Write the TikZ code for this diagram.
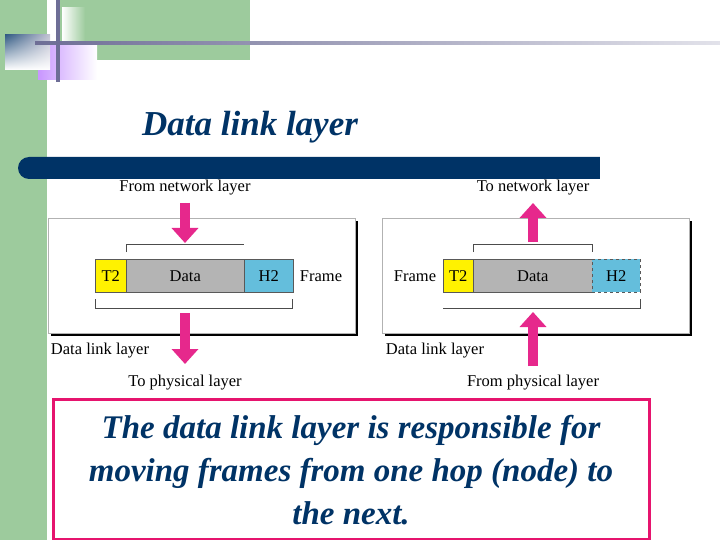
\documentclass[tikz,border=0pt]{standalone}
\usepackage{fontspec}
\setmainfont{Liberation Serif}
\usetikzlibrary{arrows.meta,shadows,shadings}
\definecolor{grn}{RGB}{157,203,157}
\definecolor{navy}{RGB}{0,51,102}
\definecolor{pinkar}{RGB}{230,40,140}
\definecolor{hcyan}{RGB}{100,190,220}
\definecolor{dgray}{RGB}{180,180,180}
\definecolor{boxpink}{RGB}{230,20,110}
\definecolor{lav}{RGB}{200,150,255}
\definecolor{slate}{RGB}{110,110,150}
\tikzset{
  lbl/.style={font=\fontsize{16.5}{18}\selectfont, inner sep=0pt},
  panel/.style={draw=gray!60, fill=white, line width=0.6pt, drop shadow={shadow xshift=3pt,shadow yshift=-3pt,opacity=1,fill=black}},
  cell/.style={draw=gray!70!black, line width=0.5pt, minimum height=33pt, inner sep=0pt, font=\fontsize{16.5}{18}\selectfont, anchor=north west},
  fat/.style={draw=pinkar, line width=10pt, -{Triangle[length=15pt,width=26pt]}, fill=pinkar},
  brk/.style={draw=gray!60!black, line width=0.6pt}
}
\begin{document}
\begin{tikzpicture}[x=1pt,y=-1pt]
\useasboundingbox (0,0) rectangle (720,540);
% backgrounds
\fill[grn] (0,0) rectangle (47,540);
\fill[grn] (60,0) rectangle (250,60);
\fill[white] (47,60) rectangle (720,398);
\shade[left color=white, right color=grn] (62,8) rectangle (85,45);
\shade[left color=lav, right color=white] (38,45) rectangle (97,80);
\shade[upper left=navy!80, lower right=white, upper right=slate!40, lower left=white] (5,35) rectangle (50,70);
\shade[left color=slate, right color=slate!20] (35,42) rectangle (720,45);
\fill[slate] (56,0) rectangle (60,82);
% title
\node[font=\fontsize{35}{38}\selectfont\bfseries\itshape, text=navy] (title) at (250,127) {Data link layer};
\fill[navy, rounded corners=11pt] (18,157) rectangle (640,179);
\fill[navy] (300,157) rectangle (600,179);
\fill[white] (600,150) rectangle (720,182);
% left panel
\node[panel, minimum width=307pt, minimum height=115pt, anchor=north west, inner sep=0pt] (lp) at (48,218) {};
\node[cell, fill=yellow, minimum width=31pt] (lt2) at (95,259) {T2};
\node[cell, fill=dgray, minimum width=118pt] (ld) at (126,259) {Data};
\node[cell, fill=hcyan, minimum width=49pt] (lh2) at (244,259) {H2};
\node[lbl] (lfr) at (321,276) {Frame};
\draw[brk] (126,252) -- (126,244) -- (244,244);
\draw[brk] (95,299) -- (95,308) -- (292,308) -- (292,299);
\coordinate (la1) at (185,203); \coordinate (la2) at (185,243);
\coordinate (la3) at (185,313); \coordinate (la4) at (185,364);
\draw[fat] (la1) -- (la2);
\draw[fat] (la3) -- (la4);
\node[lbl] (lt) at (185,188) {From network layer};
\node[lbl] (ldl) at (100,351) {Data link layer};
\node[lbl] (lb) at (185,383) {To physical layer};
% right panel
\node[panel, minimum width=307pt, minimum height=115pt, anchor=north west, inner sep=0pt] (rp) at (382,218) {};
\node[cell, fill=yellow, minimum width=30pt] (rt2) at (443,259) {T2};
\node[cell, fill=dgray, minimum width=119pt] (rd) at (473,259) {Data};
\node[cell, fill=hcyan, minimum width=48pt, dashed] (rh2) at (592,259) {H2};
\node[lbl] (rfr) at (415,276) {Frame};
\draw[brk] (473,252) -- (473,244) -- (592,244) -- (592,252);
\draw[brk] (443,308) -- (640,308) -- (640,299);
\coordinate (ra1) at (533,242); \coordinate (ra2) at (533,203);
\coordinate (ra3) at (533,366); \coordinate (ra4) at (533,312);
\draw[fat] (ra1) -- (ra2);
\draw[fat] (ra3) -- (ra4);
\node[lbl] (rt) at (533,188) {To network layer};
\node[lbl] (rdl) at (435,351) {Data link layer};
\node[lbl] (rb) at (533,383) {From physical layer};
% text box
\draw[boxpink, line width=3pt, fill=white] (53,399) rectangle (649,539);
\node[font=\fontsize{33}{43}\selectfont\bfseries\itshape, text=navy, align=center] (body) at (351,470)
  {The data link layer is responsible for\\ moving frames from one hop (node) to\\ the next.};
\end{tikzpicture}
\end{document}
